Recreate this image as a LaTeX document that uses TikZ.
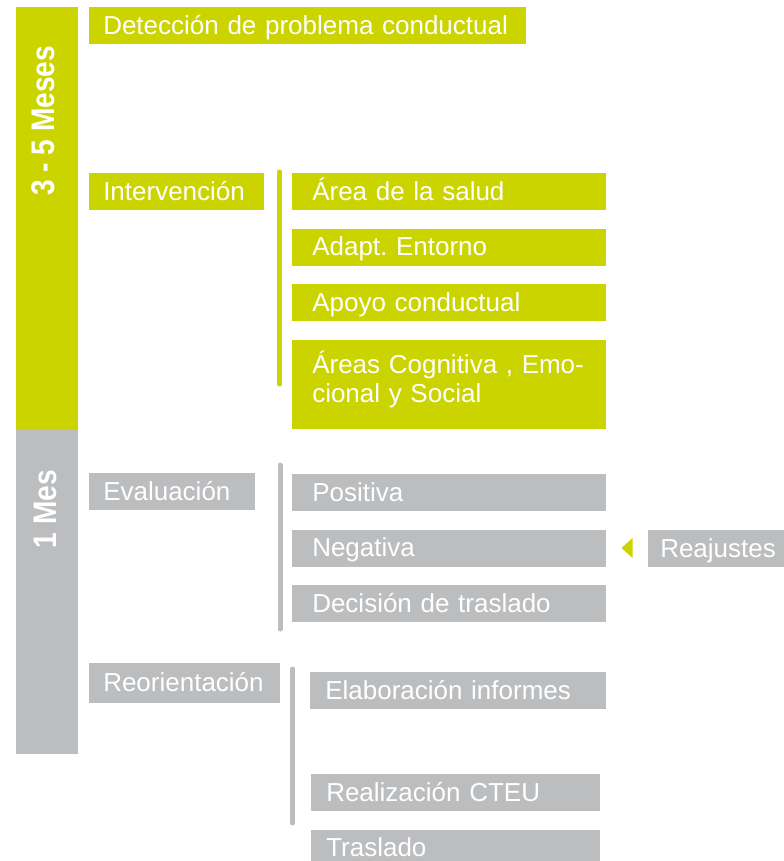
\documentclass[tikz,border=0pt]{standalone}
\usepackage{fontspec}
\setmainfont{Liberation Sans}
\usetikzlibrary{positioning}

\definecolor{verde}{RGB}{204,212,0}
\definecolor{gris}{RGB}{188,189,191}

\begin{document}
\begin{tikzpicture}[x=0.75pt, y=-0.75pt, node distance=13.5pt,
    box/.style={anchor=north west, inner ysep=0pt, text=white, align=left,
        minimum height=27.75pt, text height=16pt, text depth=3pt,
        font=\fontsize{19.5}{21.75}\selectfont},
    fase/.style={box, inner xsep=10.5pt},
    tarea/.style={box, inner xsep=15pt, text width=205.5pt},
    barra/.style={line width=3.75pt, line cap=round},
    periodo/.style={rotate=90, text=white, inner sep=0pt,
        font=\fontsize{24.5}{24.5}\bfseries}]
    \useasboundingbox (0,0) rectangle (783,861);

    % time bars on the left
    \fill[verde] (16,7) rectangle (78,430);
    \fill[gris] (16,430) rectangle (78,754);
    \node[periodo] (meses) at (43,121) {\scalebox{0.86}[1]{3 - 5 Meses}};
    \node[periodo] (mes) at (45,509) {\scalebox{0.86}[1]{1 Mes}};

    % first period
    \node[fase, fill=verde, text width=306.75pt] (deteccion) at (89,7) {Detección de problema conductual};
    \node[fase, fill=verde, text width=110.25pt] (intervencion) at (89,173) {Intervención};
    \node[tarea, fill=verde] (salud) at (292,173) {Área de la salud};
    \node[tarea, fill=verde, below=of salud.south west, anchor=north west] (entorno) {Adapt.\ Entorno};
    \node[tarea, fill=verde, below=of entorno.south west, anchor=north west] (apoyo) {Apoyo conductual};
    \node[tarea, fill=verde, minimum height=66.75pt, text depth=32.75pt,
        below=of apoyo.south west, anchor=north west] (cognitiva) {Áreas Cognitiva , Emo-\\cional y Social};
    \draw[barra, verde] (279.5,172) -- (279.5,384);

    % second period
    \node[fase, fill=gris, text width=103.5pt] (evaluacion) at (89,473) {Evaluación};
    \node[tarea, fill=gris] (positiva) at (292,474) {Positiva};
    \node[tarea, fill=gris, below=of positiva.south west, anchor=north west] (negativa) {Negativa};
    \node[tarea, fill=gris, below=of negativa.south west, anchor=north west] (decision) {Decisión de traslado};
    \node[fase, fill=gris, inner xsep=9pt, text width=94.5pt] (reajustes) at (648,530) {Reajustes};
    \fill[verde] (621.5,548) -- (632.5,538) -- (632.5,558) -- cycle;
    \draw[barra, gris] (280,465) -- (280,629);

    \node[fase, fill=gris, text width=122.25pt, minimum height=30pt] (reorientacion) at (89,663) {Reorientación};
    \node[tarea, fill=gris, inner xsep=11.25pt, text width=199.5pt] (informes) at (310,672) {Elaboración informes};
    \node[tarea, fill=gris, inner xsep=11.25pt, text width=194.25pt] (cteu) at (311,774) {Realización CTEU};
    \node[tarea, fill=gris, inner xsep=11.25pt, text width=194.25pt,
        below=of cteu.south west, anchor=north west] (traslado) {Traslado};
    \draw[barra, gris] (292.5,669) -- (292.5,823);
\end{tikzpicture}
\end{document}
